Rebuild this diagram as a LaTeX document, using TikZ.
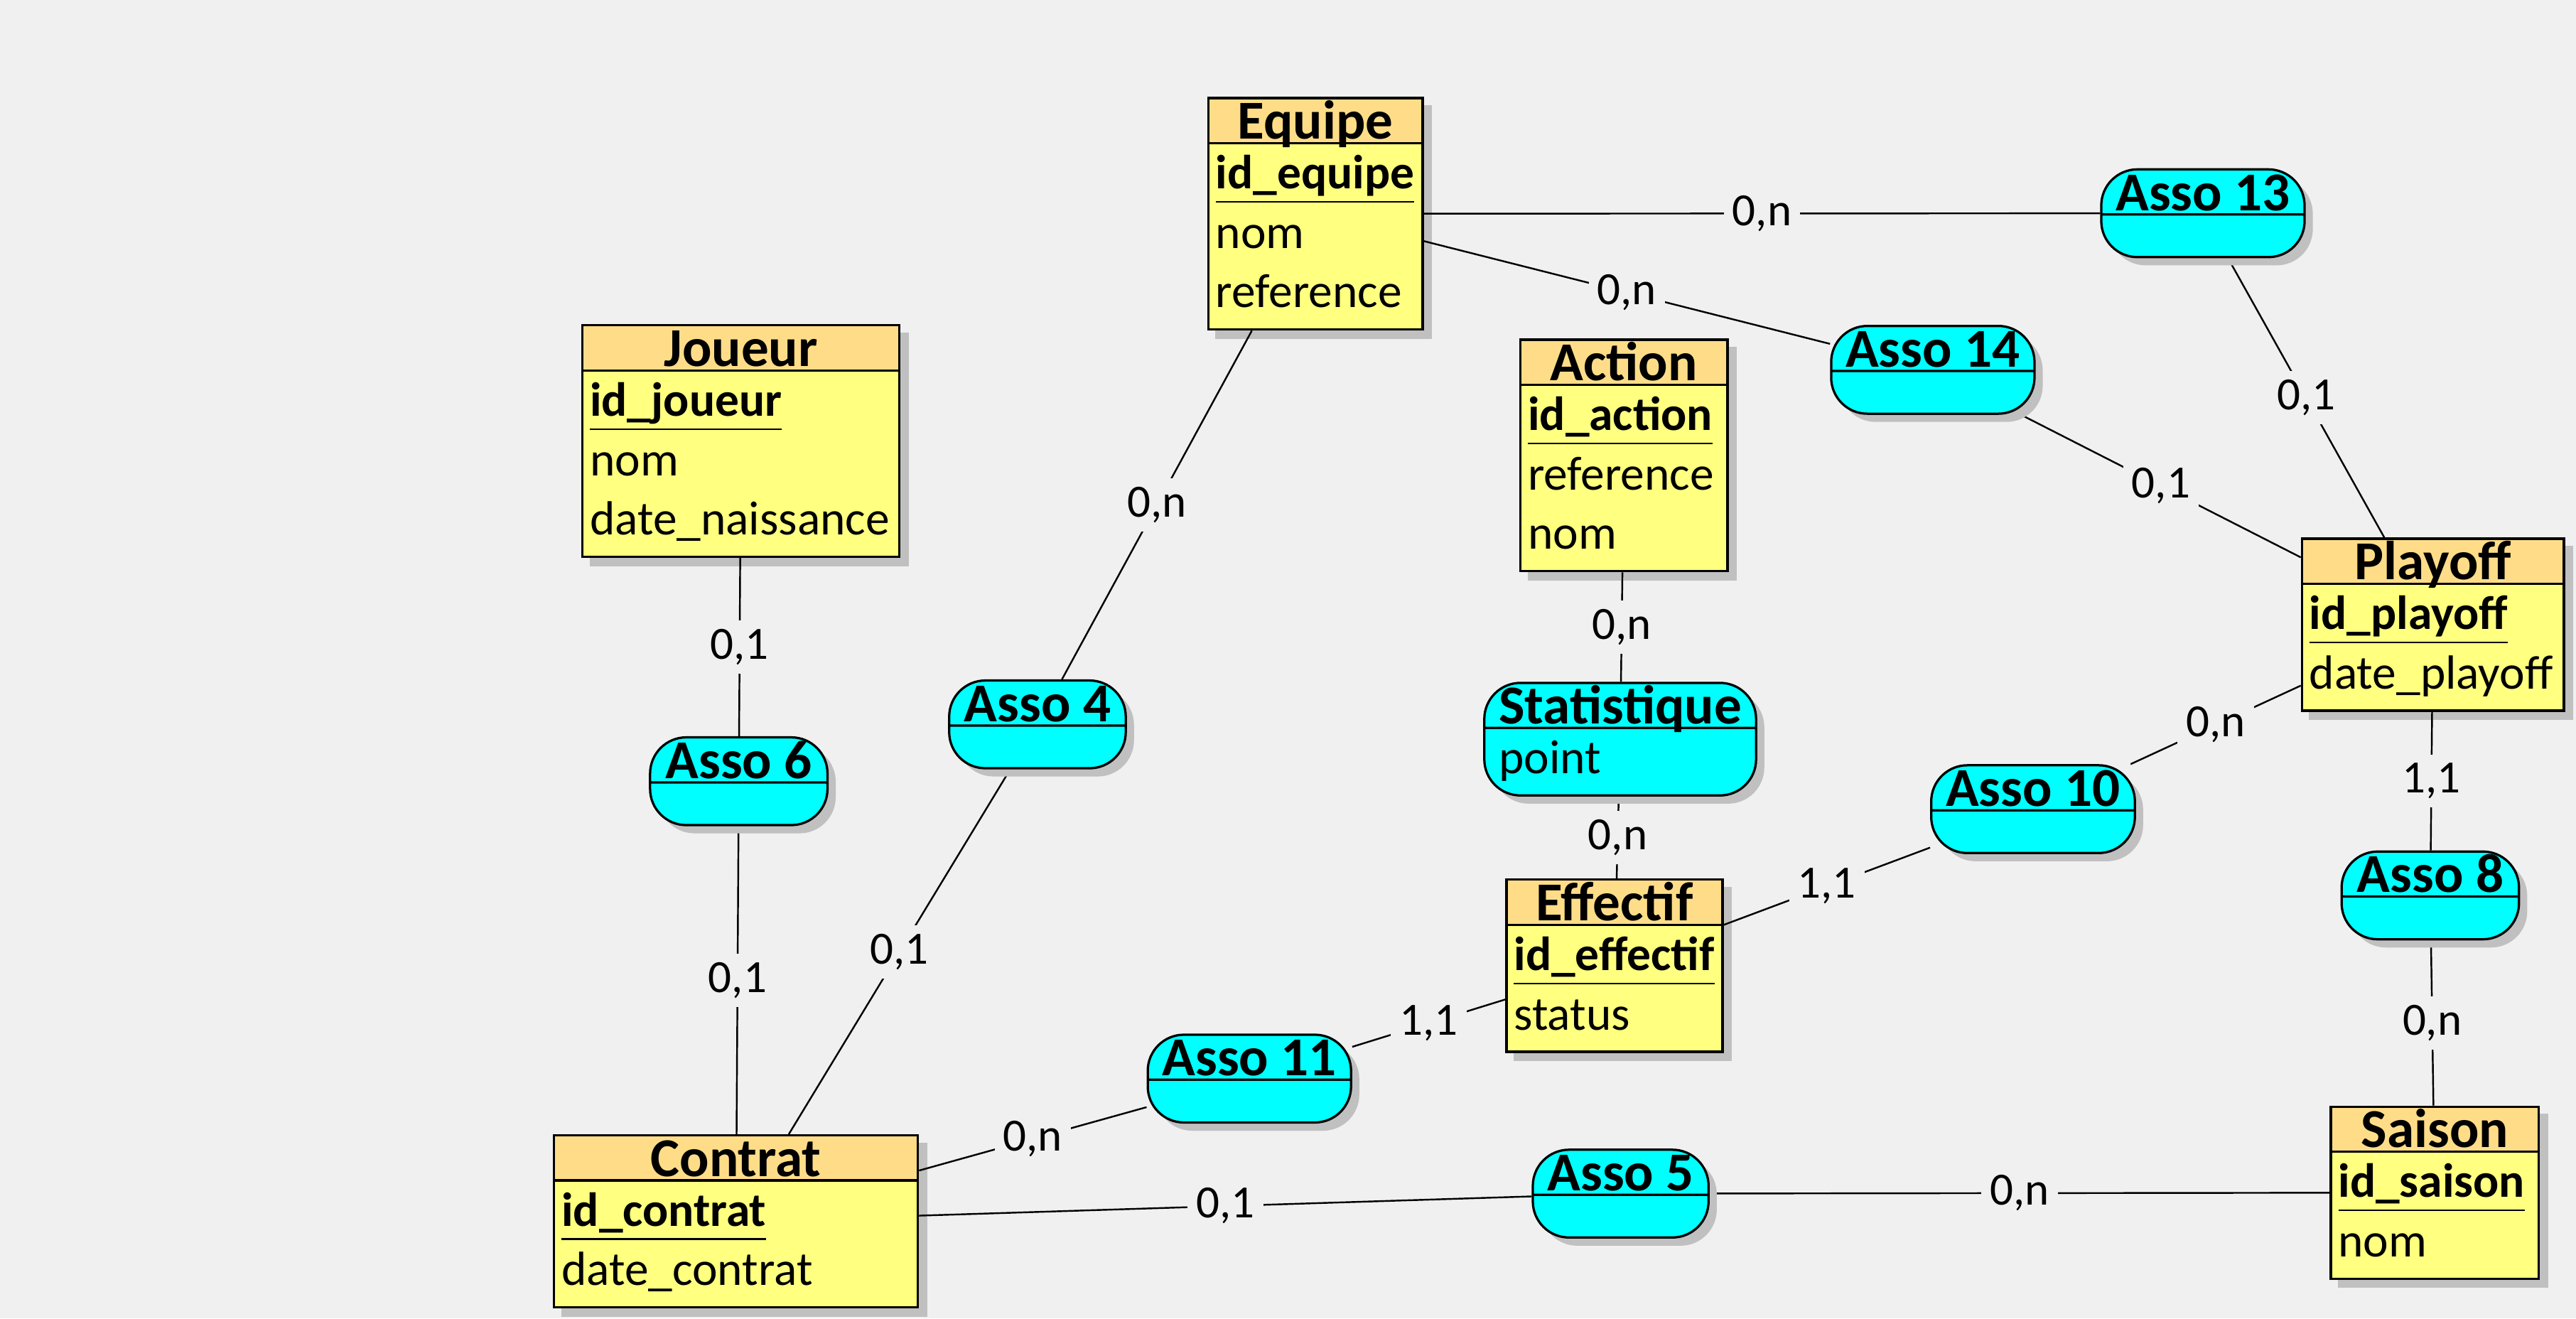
\documentclass[tikz,border=0pt]{standalone}
\usepackage{fontspec}
\setmainfont{Carlito}
\usetikzlibrary{shapes.multipart,shadows,backgrounds}

\definecolor{bgcol}{RGB}{240,240,240}
\definecolor{headcol}{RGB}{255,221,136}
\definecolor{bodycol}{RGB}{255,255,128}
\definecolor{assocol}{RGB}{0,255,255}
\definecolor{shadowcol}{RGB}{192,192,192}

\newcommand{\ttl}[1]{\raisebox{0pt}[12.8pt][0pt]{\fontsize{19}{22}\selectfont\bfseries #1}}
\newcommand{\attrs}[1]{\begin{tabular}{@{}l@{}}#1\end{tabular}}
\newcommand{\ident}[1]{\setbox0=\hbox{\textbf{#1}}\rlap{\rule[-4.8pt]{\wd0}{0.6pt}}\box0}

\begin{document}
\begin{tikzpicture}[x=0.02cm, y=-0.02cm,
    every node/.style={font=\fontsize{16.6}{20.6}\selectfont}]
		\tikzset{%
  % Specifications for style of nodes:
       entity/.style = {rectangle split, rectangle split parts=2, draw=black, line width=0.8pt,
                        rectangle split part fill={headcol,bodycol},
                        rectangle split part align={center,left},
                        inner xsep=2.6pt, inner ysep=1pt},
         asso/.style = {rectangle split, rectangle split parts=2, draw=black, line width=0.8pt,
                        fill=assocol, rounded corners=0.44cm,
                        rectangle split part align={center,left},
                        rectangle split empty part height=12pt, rectangle split empty part depth=0pt,
                        inner xsep=5pt, inner ysep=1pt,
                        drop shadow={shadow xshift=0.1cm, shadow yshift=-0.1cm, fill=shadowcol, opacity=1}},
         card/.style = {fill=bgcol, inner sep=3pt, font=\fontsize{16}{19}\selectfont},
         link/.style = {draw=black, line width=0.6pt},
}
\useasboundingbox (0,0) rectangle (1568,802.4);

  % Specification of nodes (position, etc.)
  \node (equipe) [entity, minimum width=2.61cm] at (800.7,130.1)
    {\ttl{Equipe}\nodepart{two}\attrs{\ident{id\_equipe}\\ nom\\ reference}};
  \node (joueur) [entity, minimum width=3.86cm] at (451,268.5)
    {\ttl{Joueur}\nodepart{two}\attrs{\ident{id\_joueur}\\ nom\\ date\_naissance}};
  \node (action) [entity, minimum width=2.52cm] at (988.5,277.2)
    {\ttl{Action}\nodepart{two}\attrs{\ident{id\_action}\\ reference\\ nom}};
  \node (playoff) [entity, minimum width=3.19cm] at (1480.9,380.2)
    {\ttl{Playoff}\nodepart{two}\attrs{\ident{id\_playoff}\\ date\_playoff}};
  \node (effectif) [entity, minimum width=2.63cm] at (982.7,587.8)
    {\ttl{Effectif}\nodepart{two}\attrs{\ident{id\_effectif}\\ status}};
  \node (contrat) [entity, minimum width=4.43cm] at (448,743.4)
    {\ttl{Contrat}\nodepart{two}\attrs{\ident{id\_contrat}\\ date\_contrat}};
  \node (saison) [entity, minimum width=2.53cm] at (1482,725.9)
    {\ttl{Saison}\nodepart{two}\attrs{\ident{id\_saison}\\ nom}};

  \node (asso13) [asso, minimum width=2.46cm] at (1340.9,129.8) {\ttl{Asso 13}};
  \node (asso14) [asso, minimum width=2.47cm] at (1176.5,225.1) {\ttl{Asso 14}};
  \node (asso4) [asso, minimum width=2.15cm] at (631.5,440.9) {\ttl{Asso 4}};
  \node (asso6) [asso, minimum width=2.16cm] at (449.7,475.5) {\ttl{Asso 6}};
  \node (stat) [asso, minimum width=3.30cm] at (986.2,449.9)
    {\ttl{Statistique}\nodepart{two}\attrs{point}};
  \node (asso10) [asso, minimum width=2.48cm] at (1237.5,492.5) {\ttl{Asso 10}};
  \node (asso8) [asso, minimum width=2.16cm] at (1479.3,545) {\ttl{Asso 8}};
  \node (asso11) [asso, minimum width=2.46cm] at (760.5,656.5) {\ttl{Asso 11}};
  \node (asso5) [asso, minimum width=2.14cm] at (986.5,726.5) {\ttl{Asso 5}};

  % Specification of lines between nodes specified above
  % with cardinalities as nodes
\begin{scope}[on background layer]
\fill[bgcol] (0,0) rectangle (1568,802.4);
% shadows of the entities
\foreach \n in {equipe,joueur,action,playoff,effectif,contrat,saison}
  \fill[shadowcol] ([shift={(5,5)}]\n.north west) rectangle ([shift={(5,5)}]\n.south east);
\draw[link] (equipe) -- node[card]{0,n} (asso13);
\draw[link] (equipe) -- node[card]{0,n} (asso14);
\draw[link] (asso13) -- node[card]{0,1} (playoff);
\draw[link] (asso14) -- node[card]{0,1} (playoff);
\draw[link] (equipe) -- node[card]{0,n} (asso4);
\draw[link] (asso4) -- node[card]{0,1} (contrat);
\draw[link] (joueur) -- node[card]{0,1} (asso6);
\draw[link] (asso6) -- node[card]{0,1} (contrat);
\draw[link] (action) -- node[card]{0,n} (stat);
\draw[link] (stat) -- node[card]{0,n} (effectif);
\draw[link] (effectif) -- node[card]{1,1} (asso10);
\draw[link] (asso10) -- node[card]{0,n} (playoff);
\draw[link] (playoff) -- node[card]{1,1} (asso8);
\draw[link] (asso8) -- node[card]{0,n} (saison);
\draw[link] (contrat) -- node[card]{0,n} (asso11);
\draw[link] (asso11) -- node[card]{1,1} (effectif);
\draw[link] (contrat) -- node[card]{0,1} (asso5);
\draw[link] (asso5) -- node[card]{0,n} (saison);
\end{scope}

  \end{tikzpicture}
\end{document}
